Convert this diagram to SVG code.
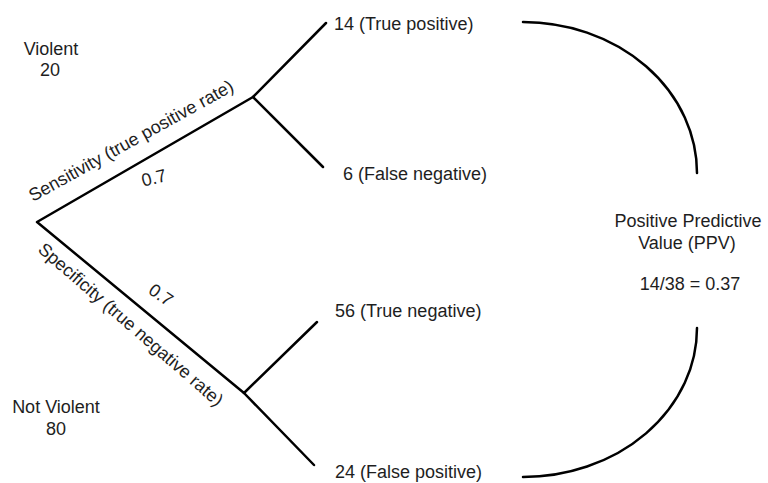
<svg xmlns="http://www.w3.org/2000/svg" width="768" height="483" viewBox="0 0 768 483">
<style>
text{font-family:"Liberation Sans",Arial,Helvetica,sans-serif;font-size:18px;fill:#1e1e1e}
.c{text-anchor:middle}
.ln{fill:none;stroke:#000;stroke-width:2.5;stroke-linecap:round;stroke-linejoin:round}
</style>
<rect width="768" height="483" fill="#fff"/>
<g id="connectors">
<polyline class="ln" points="326,23 253,97 37,222 244,393 317,322"/>
<line class="ln" x1="253" y1="97" x2="323" y2="167"/>
<line class="ln" x1="244" y1="393" x2="314" y2="465"/>
<path class="ln" d="M523,22 A174,151 0 0 1 697,173"/>
<path class="ln" d="M697,328 A174,149 0 0 1 523,477"/>
</g>
<g id="violent"><text class="c" x="51" y="55">Violent</text><text class="c" x="50" y="76">20</text></g>
<g id="not-violent"><text class="c" x="56" y="413">Not Violent</text><text class="c" x="56" y="435">80</text></g>
<g id="sensitivity"><text x="33" y="202" transform="rotate(-29 33 202)">Sensitivity (true positive rate)</text><text class="c" x="154" y="184" transform="rotate(-14 154 178)">0.7</text></g>
<g id="specificity"><text x="37" y="251" transform="rotate(41 37 251)">Specificity (true negative rate)</text><text class="c" x="161" y="301" transform="rotate(35 161 295)">0.7</text></g>
<g id="tp"><text x="334" y="30">14 (True positive)</text></g>
<g id="fn"><text x="343" y="180">6 (False negative)</text></g>
<g id="tn"><text x="335" y="317">56 (True negative)</text></g>
<g id="fp"><text x="335" y="478">24 (False positive)</text></g>
<g id="ppv"><text class="c" x="688" y="227">Positive Predictive</text><text class="c" x="687" y="249">Value (PPV)</text><text class="c" x="690" y="290">14/38 = 0.37</text></g>
</svg>
